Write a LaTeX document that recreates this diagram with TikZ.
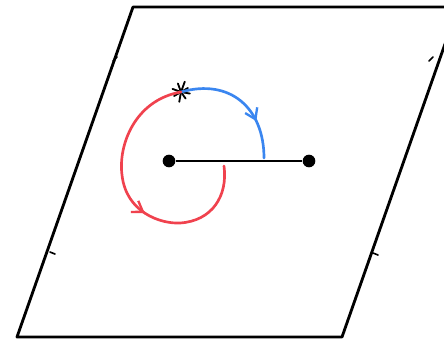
\documentclass[tikz,border=0pt]{standalone}
\usepackage{tikz}
\usetikzlibrary{arrows.meta,decorations.markings}
\definecolor{Pathblue}{HTML}{3A86F0}
\definecolor{Pathred}{HTML}{F0424E}

\begin{document}
\begin{tikzpicture}[x=0.3mm,y=-0.3mm,
        edge/.style={draw=black,line width=0.85mm,line join=round},
        seg/.style={draw=black,line width=0.8mm},
        dot/.style={circle,fill=black,inner sep=0pt,minimum width=3.8mm,minimum height=3.4mm},
        barb/.style={draw=black,line width=0.5mm,line cap=round},
        loop/.style={line width=0.8mm,line cap=round,postaction={decorate},
          decoration={markings,mark=at position #1 with {\arrow{Straight Barb[length=3mm,width=4mm,line width=0.7mm]}}}}]
        \useasboundingbox (0,0) rectangle (444,339);
        \clip (0,0) rectangle (444,339);
        % the plane
        \draw[edge] (133,7) -- (458,7) -- (342,337) -- (17,337) -- cycle;
        \draw[barb] (117,57) -- ++(-4,4);
        \draw[barb] (433,57) -- ++(-4,4);
        \draw[barb] (50,252) -- ++(5,2);
        \draw[barb] (373,253) -- ++(5,2);
        % cut between the two points
        \node[dot] (p) at (169,161) {};
        \node[dot] (q) at (309,161) {};
        \draw[seg] (p) -- (q);
        % base point
        \coordinate (x0) at (181,92);
        \foreach \a/\l in {10/9,55/8,100/10,150/8,200/9,250/9,290/11,330/8}
          \draw[line width=0.55mm,line cap=round] (x0) -- ++(\a:\l);
        \coordinate (bend) at (264,158);
        \coordinate (rend) at (224,166);
        % the two loops
        \draw[Pathblue,loop=0.7] (x0) .. controls (230,78) and (264,108) .. (bend);
        \draw[Pathred,loop=0.57] (x0) .. controls (135,100) and (118,145) .. (122,175)
          .. controls (126,212) and (160,224) .. (180,223)
          .. controls (212,221) and (228,196) .. (rend);
      \end{tikzpicture}
\end{document}
